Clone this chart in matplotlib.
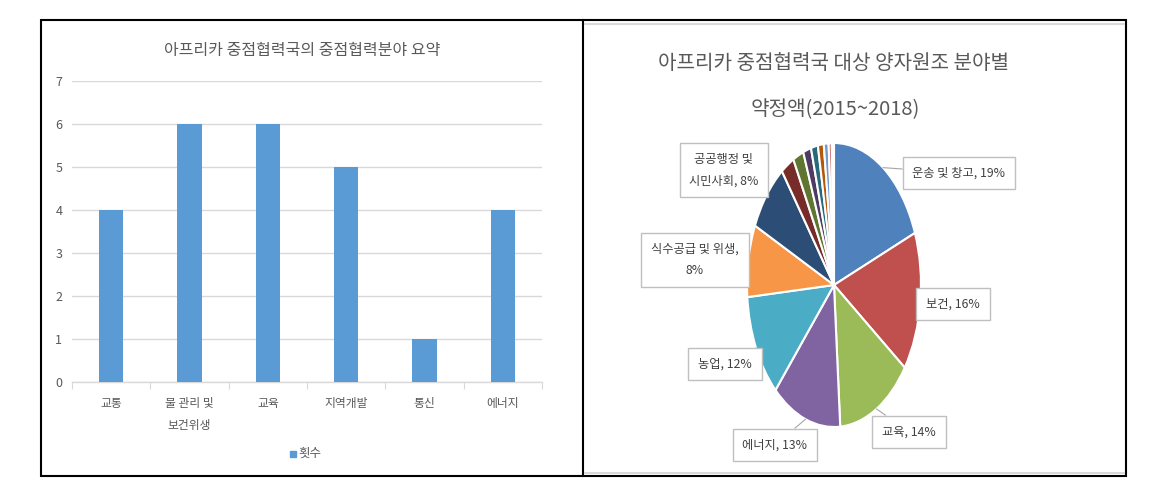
import matplotlib
matplotlib.use("Agg")
import matplotlib.pyplot as plt
import numpy as np
from matplotlib.patches import Rectangle
from matplotlib.lines import Line2D

plt.rcParams['font.family'] = ['Noto Sans CJK KR', 'DejaVu Sans']

# ---- data ----
bar_categories = ['교통', '물 관리 및\n보건위생', '교육', '지역개발', '통신', '에너지']
bar_values = [4, 6, 6, 5, 1, 4]
bar_series = '횟수'
bar_title = '아프리카 중점협력국의 중점협력분야 요약'

pie_labels = ['운송 및 창고, 19%', '보건, 16%', '교육, 14%', '에너지, 13%', '농업, 12%',
              '식수공급 및 위생,\n8%', '공공행정 및\n시민사회, 8%',
              '', '', '', '', '', '', '', '']
pie_values = [19.2, 16.0, 14.1, 13.0, 12.0, 8.3, 8.0,
              2.5, 2.0, 1.5, 1.3, 1.1, 0.9, 0.6, 0.4]
pie_colors = ['#4F81BD', '#C0504D', '#9BBB59', '#8064A2', '#4BACC6', '#F79646',
              '#2C4D75', '#772C2A', '#5F7530', '#4D3B62', '#276A7C', '#B65708',
              '#729ACA', '#CD7371', '#DCE6C4']
pie_title_lines = ['아프리카 중점협력국 대상 양자원조 분야별', '약정액(2015~2018)']

W, H = 1158, 484
fig = plt.figure(figsize=(W / 100, H / 100), dpi=100)

def fx(x):
    return x / W

def fy(y):
    return 1 - y / H

# ---- borders ----
fig.add_artist(Rectangle((fx(41), fy(476)), fx(1126) - fx(41), fy(20) - fy(476),
                         transform=fig.transFigure, fill=False, ec='black', lw=1.5))
fig.add_artist(Line2D([fx(583), fx(583)], [fy(20), fy(476)], transform=fig.transFigure,
                      color='black', lw=1.5))
fig.add_artist(Line2D([fx(585), fx(1124)], [fy(24), fy(24)], transform=fig.transFigure,
                      color='#D9D9D9', lw=1.5))
fig.add_artist(Line2D([fx(585), fx(1124)], [fy(472.5), fy(472.5)], transform=fig.transFigure,
                      color='#D9D9D9', lw=1.5))

# ---- bar chart ----
ax = fig.add_axes([fx(72), fy(382), fx(542) - fx(72), fy(81) - fy(382)])
x = np.arange(len(bar_categories))
ax.bar(x, bar_values, width=0.31, color='#5B9BD5', zorder=3)
ax.set_xlim(-0.5, len(bar_categories) - 0.5)
ax.set_ylim(0, 7)
ax.set_yticks(range(0, 8))
ax.yaxis.grid(True, color='#D9D9D9', lw=1.0, zorder=0)
for s in ['top', 'right', 'left']:
    ax.spines[s].set_visible(False)
ax.spines['bottom'].set_color('#D9D9D9')
ax.spines['bottom'].set_linewidth(1.0)
ax.tick_params(axis='y', length=0, labelsize=9, labelcolor='#595959', pad=7)
ax.set_xticks(np.arange(len(bar_categories) + 1) - 0.5, minor=False)
ax.set_xticklabels([])
ax.tick_params(axis='x', which='major', length=5, color='#D9D9D9')
ax.set_xticks(x, minor=True)
ax.set_xticklabels(bar_categories, minor=True)
ax.tick_params(axis='x', which='minor', length=0, labelsize=8.5, labelcolor='#595959', pad=11)
for t in ax.get_xticklabels(minor=True):
    t.set_linespacing(1.9)
    t.set_verticalalignment('top')
fig.text(fx(302), fy(51), bar_title, ha='center', va='center', fontsize=11.5, color='#595959')
fig.add_artist(Rectangle((fx(290), fy(457)), fx(6), fy(451) - fy(457), transform=fig.transFigure,
                         color='#5B9BD5'))
fig.text(fx(298), fy(453), bar_series, ha='left', va='center', fontsize=9, color='#595959')

# ---- pie chart ----
cx, cy, rx, ry = 834, 285, 87, 142
pax = fig.add_axes([fx(cx - 1.25 * rx), fy(cy + 1.25 * ry), fx(2.5 * rx), fy(0) - fy(2.5 * ry)])
wedges, _ = pax.pie(pie_values, colors=pie_colors, startangle=90, counterclock=False,
                    wedgeprops=dict(edgecolor='white', linewidth=1.5))
pax.set_aspect('auto')
pax.set_xlim(-1.25, 1.25)
pax.set_ylim(-1.25, 1.25)

fig.text(fx(834), fy(63), pie_title_lines[0], ha='center', va='center', fontsize=14.5,
         color='#595959')
fig.text(fx(835), fy(110), pie_title_lines[1], ha='center', va='center', fontsize=14.5,
         color='#595959')

label_pos = [(959, 173), (953, 304), (909, 432), (775, 445), (725, 364), (695, 260), (724, 170)]
for i, (pxp, pyp) in enumerate(label_pos):
    w = wedges[i]
    ang = np.deg2rad((w.theta1 + w.theta2) / 2)
    xy = (np.cos(ang) * 1.0, np.sin(ang) * 1.0)
    pax.annotate(pie_labels[i], xy=xy, xycoords='data',
                 xytext=(pxp, H - pyp), textcoords='figure pixels',
                 ha='center', va='center', fontsize=8.8, color='#404040',
                 linespacing=1.9, annotation_clip=False,
                 bbox=dict(boxstyle='square,pad=0.8', fc='white', ec='#BFBFBF', lw=1.0),
                 arrowprops=dict(arrowstyle='-', color='#A6A6A6', lw=0.8,
                                 shrinkA=0, shrinkB=0))

fig.savefig('out.png', dpi=100)
